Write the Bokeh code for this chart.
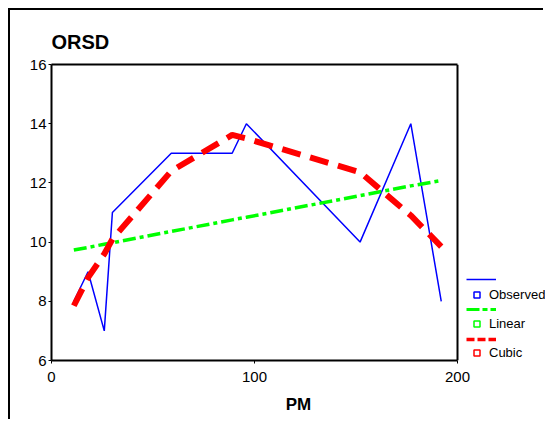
from bokeh.plotting import figure
from bokeh.models import Range1d, FixedTicker, Legend, LegendItem, LinearAxis, Span
from bokeh.embed import file_html
from bokeh.resources import INLINE

# ---- data ----
pm = [11, 18, 26, 30, 59, 89, 96, 152, 177, 192]
orsd_observed = [8, 9, 7, 11, 13, 13, 14, 10, 14, 8]
orsd_linear = [9.73, 9.82, 9.93, 9.98, 10.36, 10.75, 10.84, 11.57, 11.90, 12.08]
orsd_cubic = [7.85, 8.8, 9.6, 10.1, 12.4, 13.62, 13.5, 12.36, 10.9, 9.85]
x_ticks = [0, 100, 200]
y_ticks = [6, 8, 10, 12, 14, 16]
series_labels = ["Observed", "Linear", "Cubic"]

FONT = "Liberation Sans"
X_MAX = 200
CANVAS_W, CANVAS_H = 535, 411
LEFT, TOP, BOTTOM = 41, 54, 61
PLOT_PX = 406                     # pixels between x=0 and x=200
FRAME_PX = CANVAS_W - LEFT        # frame runs to the right edge (legend lives there)
x_end = X_MAX * FRAME_PX / PLOT_PX

p = figure(width=CANVAS_W, height=CANVAS_H, output_backend="svg", toolbar_location=None,
           x_range=Range1d(0, x_end), y_range=Range1d(6, 16),
           min_border_left=LEFT, min_border_right=0, min_border_top=TOP, min_border_bottom=BOTTOM,
           title="ORSD")
p.styles = {"border-left": "2px solid #000000", "border-top": "2px solid #000000",
            "margin-left": "8px", "margin-top": "8px"}

p.title.text_font = FONT
p.title.text_font_size = "20px"
p.title.text_font_style = "bold"
p.title.text_color = "#000000"
p.title.align = "left"
p.title.offset = 0
p.title.standoff = 24

p.grid.visible = False
p.outline_line_color = None

p.xaxis.ticker = FixedTicker(ticks=x_ticks)
p.yaxis.ticker = FixedTicker(ticks=y_ticks)
p.xaxis.bounds = (0, X_MAX)
for ax in (p.xaxis, p.yaxis):
    ax.axis_line_width = 2
    ax.axis_line_color = "#000000"
    ax.major_tick_line_color = "#000000"
    ax.major_tick_line_width = 1
    ax.major_tick_in = 0
    ax.major_tick_out = 3
    ax.minor_tick_line_color = None
    ax.major_label_text_font = FONT
    ax.major_label_text_font_size = "15px"
    ax.major_label_text_color = "#000000"
p.xaxis.major_label_standoff = 8
p.yaxis.major_label_standoff = 2
p.xaxis.axis_label = "PM"
p.xaxis.axis_label_text_font = FONT
p.xaxis.axis_label_text_font_style = "bold"
p.xaxis.axis_label_text_font_size = "17px"
p.xaxis.axis_label_text_color = "#000000"
p.xaxis.axis_label_standoff = 10

# top edge of the plot box (0..200) and right edge at x=200
top_edge = LinearAxis(ticker=FixedTicker(ticks=[]), bounds=(0, X_MAX), axis_line_width=2,
                      axis_line_color="#000000", major_label_text_font_size="0px",
                      major_tick_line_color=None, minor_tick_line_color=None,
                      major_label_standoff=0, axis_label_standoff=0)
p.add_layout(top_edge, "above")
p.add_layout(Span(location=X_MAX, dimension="height", line_color="#000000", line_width=2))

obs = p.line(pm, orsd_observed, line_color="#0000FF", line_width=1.5)
lin = p.line(pm, orsd_linear, line_color="#00FF00", line_width=3.5, line_dash="13 4 4 4")
cub = p.line(pm, orsd_cubic, line_color="#FF0000", line_width=6, line_dash="19 10")

# legend-only glyphs (hidden renderers; the legend draws their style)
l_obs = p.line(pm, orsd_observed, line_color="#0000FF", line_width=1.5, visible=False)
l_lin = p.line(pm, orsd_linear, line_color="#00FF00", line_width=3, line_dash="13 3 5 3", visible=False)
l_cub = p.line(pm, orsd_cubic, line_color="#FF0000", line_width=3.5, line_dash="8 3", visible=False)
m_obs = p.scatter(pm, orsd_observed, marker="square", fill_color=None, line_color="#0000FF", line_width=1.5, visible=False)
m_lin = p.scatter(pm, orsd_linear, marker="square", fill_color=None, line_color="#00FF00", line_width=1.5, visible=False)
m_cub = p.scatter(pm, orsd_cubic, marker="square", fill_color=None, line_color="#FF0000", line_width=1.5, visible=False)

legend_lines = Legend(items=[LegendItem(label="", renderers=[r]) for r in (l_obs, l_lin, l_cub)],
                      location=(415, 16), glyph_width=30, glyph_height=10, label_height=10,
                      label_width=0, label_standoff=0, spacing=20, padding=0, margin=0,
                      border_line_color=None, background_fill_alpha=0,
                      label_text_font_size="1px", label_text_line_height=1.0)
legend_marks = Legend(items=[LegendItem(label=lab, renderers=[r]) for lab, r in zip(series_labels, (m_obs, m_lin, m_cub))],
                      location=(418, 0), glyph_width=15, glyph_height=15, label_height=15,
                      label_standoff=5, spacing=14, padding=0, margin=0,
                      border_line_color=None, background_fill_alpha=0,
                      label_text_font=FONT, label_text_font_size="13px",
                      label_text_line_height=1.0, label_text_color="#000000")
p.add_layout(legend_lines)
p.add_layout(legend_marks)

open("out.html", "w").write(file_html(p, INLINE))
